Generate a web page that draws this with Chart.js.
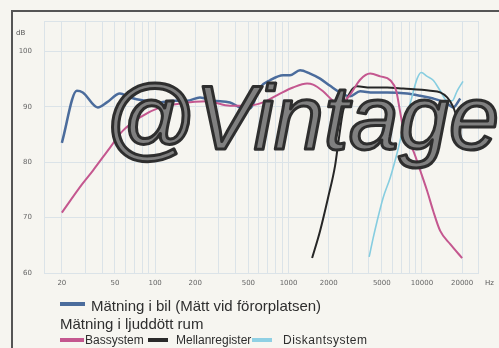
<!DOCTYPE html>
<html>
<head>
<meta charset="utf-8">
<script src="https://cdn.jsdelivr.net/npm/chart.js@4.4.0/dist/chart.umd.min.js"></script>
<style>
  html, body { margin: 0; padding: 0; background: #f6f5f0; }
  #wrap { position: relative; width: 499px; height: 348px; overflow: hidden; font-family: "Liberation Sans", sans-serif; }
  #frame { position: absolute; left: 11px; top: 10px; width: 600px; height: 500px; border-left: 2px solid #555; border-top: 2px solid #555; }
  canvas { position: absolute; left: 0; top: 0; }
  .lg { position: absolute; color: #2e2e2e; white-space: nowrap; line-height: 1; }
  .sw { position: absolute; height: 4px; }
</style>
</head>
<body>
<div id="wrap">
  <div id="frame"></div>
  <canvas id="myChart" width="499" height="348"></canvas>

  <div class="sw" style="left:60px; top:302px; width:25px; background:#4b6c9c;"></div>
  <div class="lg" style="left:91px; top:298px; font-size:15px;">Mätning i bil (Mätt vid förorplatsen)</div>
  <div class="lg" style="left:60px; top:316px; font-size:15px;">Mätning i ljuddött rum</div>

  <div class="sw" style="left:60px; top:338px; width:24px; background:#c4578f;"></div>
  <div class="lg" style="left:85px; top:334px; font-size:12px;">Bassystem</div>
  <div class="sw" style="left:148px; top:338px; width:20px; background:#2a2a2a;"></div>
  <div class="lg" style="left:176px; top:334px; font-size:12px;">Mellanregister</div>
  <div class="sw" style="left:252px; top:338px; width:20px; background:#8fd0e4;"></div>
  <div class="lg" style="left:283px; top:334px; font-size:12px; letter-spacing:0.5px;">Diskantsystem</div>
</div>

<script>
'use strict';

// x axis labels (Hz) and y axis labels (dB)
const tickLabels = [20, 50, 100, 200, 500, 1000, 2000, 5000, 10000, 20000];
const dbTicks = [60, 70, 80, 90, 100];

// Mätning i bil
const bilHz = [20, 25.9, 28.7, 37.2, 43.5, 54.5, 64.7, 84, 109, 136, 173, 217, 272, 364, 433, 514, 611, 727, 910, 1026, 1220, 1450, 1723, 2050, 2435, 2893, 3440, 4305, 5485, 7745, 9700, 12140, 15460, 17140, 19360];
const bilDb = [83.5, 92.9, 92.6, 89.9, 90.8, 92.4, 91.7, 91.1, 90.8, 91.1, 91.1, 91.7, 91.1, 90.8, 89.9, 89.7, 93.5, 94.8, 95.7, 95.7, 96.6, 96.0, 95.1, 93.8, 92.6, 91.9, 92.8, 92.6, 92.6, 92.4, 92.0, 91.5, 90.6, 89.9, 91.5];

// Bassystem
const bassHz = [20, 28.3, 34.2, 45.8, 57.4, 77, 109, 154, 245, 364, 488, 644, 863, 1081, 1377, 1528, 1815, 2158, 2436, 2893, 3440, 4092, 4864, 5780, 6410, 6870, 7486, 8590, 9700, 10940, 12140, 13700, 16290, 20000];
const bassDb = [70.9, 76.0, 78.5, 82.6, 85.7, 88.1, 89.9, 90.6, 91.0, 90.2, 90.2, 90.8, 92.4, 93.5, 94.2, 94.0, 92.8, 91.1, 90.6, 92.2, 94.9, 96.0, 95.5, 94.8, 92.9, 89.0, 84.4, 82.1, 78.5, 74.8, 71.2, 67.6, 65.2, 62.7];

// Mellanregister
const mellanHz = [1502, 1723, 1978, 2233, 2353, 2565, 2893, 3268, 4092, 5485, 7228, 11540, 13700, 15460, 17140, 18360];
const mellanDb = [62.7, 67.6, 73.6, 79.4, 83.3, 89.3, 92.6, 93.7, 93.5, 93.5, 93.3, 92.9, 92.6, 91.7, 90.0, 87.9];

// Diskantsystem
const diskantHz = [4020, 4306, 4614, 5118, 5780, 6520, 7228, 8160, 9200, 9860, 10940, 12140, 13700, 15460, 16870, 18370, 20300];
const diskantDb = [62.9, 66.3, 69.4, 73.6, 77.2, 81.7, 86.2, 90.6, 95.1, 96.2, 95.5, 94.8, 92.9, 91.1, 91.1, 92.9, 94.6];

const xMin = 14.7;
const xMax = 26300;
const yMin = 60;
const yMax = 105.5;

function toPoints(hz, db) {
  return hz.map((h, i) => ({ x: h, y: db[i] }));
}

// log grid lines 1..9 per decade
let gridHz = [];
for (let p = 1; p <= 4; p++) {
  for (let m = 1; m <= 9; m++) {
    let v = m * Math.pow(10, p);
    if (v > xMin && v < xMax) gridHz.push(v);
  }
}
gridHz.push(xMax);

const tickFont = { family: '"DejaVu Sans", sans-serif', size: 7 };
const gridColor = '#dbe3e8';

const extras = {
  id: 'extras',
  afterDraw(chart) {
    const ctx = chart.ctx;
    const area = chart.chartArea;
    ctx.save();
    ctx.fillStyle = '#555';
    ctx.font = '7px "DejaVu Sans", sans-serif';
    ctx.textBaseline = 'middle';
    ctx.textAlign = 'left';
    ctx.fillText('dB', 16, area.top + 12);
    ctx.fillText('Hz', area.right + 7, area.bottom + 10);

    // watermark
    ctx.font = 'italic 90px "Liberation Sans", sans-serif';
    ctx.textBaseline = 'alphabetic';
    ctx.lineJoin = 'round';
    ctx.fillStyle = '#808080';
    ctx.fillText('@Vintage', 104, 149);
    ctx.strokeStyle = '#2e2e2e';
    ctx.lineWidth = 3;
    ctx.strokeText('@Vintage', 104, 149);
    ctx.restore();
  }
};

let myObj = {
  type: 'line',
  data: {
    datasets: [
      {
        label: 'Bassystem',
        data: toPoints(bassHz, bassDb),
        borderColor: '#c4578f',
        borderWidth: 2
      },
      {
        label: 'Mellanregister',
        data: toPoints(mellanHz, mellanDb),
        borderColor: '#262626',
        borderWidth: 2
      },
      {
        label: 'Diskantsystem',
        data: toPoints(diskantHz, diskantDb),
        borderColor: '#86cde0',
        borderWidth: 1.6
      },
      {
        label: 'Mätning i bil (Mätt vid förorplatsen)',
        data: toPoints(bilHz, bilDb),
        borderColor: '#4b6c9c',
        borderWidth: 2.5
      }
    ]
  },
  options: {
    responsive: false,
    animation: false,
    cubicInterpolationMode: 'monotone',
    elements: { point: { radius: 0 } },
    layout: { padding: { top: 21, right: 21, left: 0, bottom: 0 } },
    plugins: { legend: { display: false }, tooltip: { enabled: false } },
    scales: {
      x: {
        type: 'logarithmic',
        min: xMin,
        max: xMax,
        afterBuildTicks: s => { s.ticks = gridHz.map(v => ({ value: v })); },
        afterFit: s => { s.height = 75; },
        ticks: {
          autoSkip: false,
          maxRotation: 0,
          minRotation: 0,
          padding: 6,
          color: '#666',
          font: tickFont,
          callback: v => tickLabels.includes(v) ? String(v) : ''
        },
        grid: { color: gridColor, drawTicks: false },
        border: { color: gridColor }
      },
      y: {
        type: 'linear',
        min: yMin,
        max: yMax,
        afterBuildTicks: s => { s.ticks = dbTicks.concat([yMax]).map(v => ({ value: v })); },
        afterFit: s => { s.width = 44; },
        ticks: {
          padding: 12,
          color: '#666',
          font: tickFont,
          callback: v => dbTicks.includes(v) ? String(v) : ''
        },
        grid: { color: gridColor, drawTicks: false },
        border: { color: gridColor }
      }
    }
  },
  plugins: [extras]
};

new Chart(document.getElementById('myChart').getContext('2d'), myObj);
</script>
</body>
</html>
